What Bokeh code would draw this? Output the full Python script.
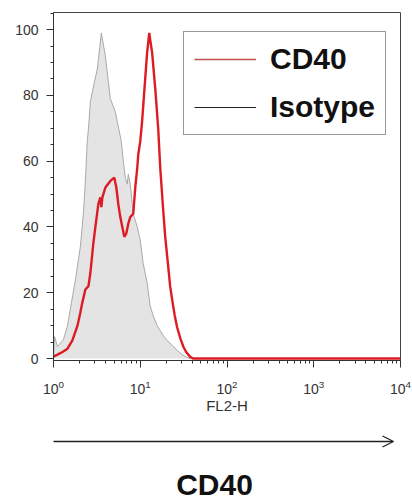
from bokeh.plotting import figure
from bokeh.models import (Range1d, FixedTicker, Legend, LegendItem, Arrow, OpenHead,
                          Label, ColumnDataSource)
from bokeh.layouts import column
from bokeh.embed import file_html
from bokeh.resources import INLINE

# ---- data ----
iso_x = [1.0, 1.03, 1.11, 1.30, 1.45, 1.61, 1.79, 2.04, 2.21, 2.33, 2.45, 2.53, 2.66, 2.96,
         3.20, 3.56, 3.96, 4.52, 5.16, 5.44, 6.05, 6.38, 6.72, 7.09, 7.28, 7.67, 8.31,
         9.24, 10.0, 10.8, 12.0, 13.0, 14.1, 15.7, 18.4, 20.4, 23.3, 26.6, 30.4, 34.7, 37.6]
iso_y = [0, 6.7, 3.6, 5.7, 10, 17, 24, 34, 44, 54, 66, 70, 78, 84,
         88, 99, 92, 79, 75, 72, 66, 60, 55, 53, 56, 53, 44,
         40, 36, 29, 23, 16, 13, 10, 7, 5.5, 4, 2.5, 1.2, 0.3, 0]

cd40_x = [1.0, 1.11, 1.27, 1.45, 1.65, 1.89, 2.04, 2.15, 2.33, 2.53, 2.66, 2.88, 3.04,
          3.29, 3.47, 3.56, 3.66, 3.96, 4.52, 5.02, 5.30, 5.58, 5.89, 6.21, 6.55, 6.90,
          7.28, 7.67, 8.31, 8.76, 9.24, 9.48, 10.0, 10.5, 11.4, 12.0, 12.7, 13.0, 13.7,
          14.9, 16.1, 17.0, 18.4, 19.4, 21.0, 22.1, 23.3, 25.0, 26.6, 29.1, 31.5, 33.8,
          37.6, 40.5, 10000]
cd40_y = [0.6, 1.2, 2, 3, 5.5, 10, 14, 17, 21, 22, 26, 35, 40,
          47, 49, 46, 49, 52, 54, 55, 52, 47, 43, 40, 37, 38,
          41, 43, 44, 52, 58, 62, 66, 72, 85, 93, 99, 97, 93,
          82, 70, 58, 45, 37, 28, 22, 18, 13, 9.5, 6, 3.5, 2,
          0.5, 0, 0]

y_ticks = [0, 20, 40, 60, 80, 100]
y_minor = [5, 10, 15, 25, 30, 35, 45, 50, 55, 65, 70, 75, 85, 90, 95, 105]
x_ticks = [1, 10, 100, 1000, 10000]
x_minor = [m * d for d in [1, 10, 100, 1000] for m in range(2, 10)]

series_labels = ["CD40", "Isotype"]
axis_label = "FL2-H"
bottom_title = "CD40"

FONT = "Liberation Sans"
RED = "#dc1c22"

p = figure(width=412, height=420, x_axis_type="log",
           x_range=Range1d(1, 10000), y_range=Range1d(-0.6, 105.2),
           output_backend="svg", toolbar_location=None,
           min_border_left=53, min_border_right=12, min_border_top=12, min_border_bottom=60)
p.grid.visible = False
p.outline_line_color = "#444444"
p.outline_line_width = 1
p.background_fill_color = "white"
p.border_fill_color = "white"

src_iso = ColumnDataSource(dict(x=iso_x, y=iso_y))
src_cd = ColumnDataSource(dict(x=cd40_x, y=cd40_y))
p.varea(x="x", y1=0, y2="y", source=src_iso, fill_color="#e4e4e4")
p.line(x="x", y="y", source=src_iso, line_color="#a9a9a9", line_width=1)
p.line(x="x", y="y", source=src_cd, line_color=RED, line_width=2.4)

# legend-only glyphs (placed outside the visible x range)
leg_red = p.line(x=[0.1, 0.2], y=[50, 50], line_color="#c0504d", line_width=1.5)
leg_blk = p.line(x=[0.1, 0.2], y=[50, 50], line_color="#222222", line_width=1.2)
legend = Legend(items=[LegendItem(label=series_labels[0], renderers=[leg_red]),
                       LegendItem(label=series_labels[1], renderers=[leg_blk])],
                location=(130, 225), orientation="vertical",
                label_text_font=FONT, label_text_font_size="30px",
                label_text_font_style="bold", label_text_color="#111111",
                glyph_width=62, glyph_height=34, label_height=34, label_standoff=14,
                spacing=14, padding=10, margin=0,
                border_line_color="#333333", border_line_width=1,
                background_fill_color="white", background_fill_alpha=1)
p.add_layout(legend, "center")

# axes
ya = p.yaxis[0]
ya.ticker = FixedTicker(ticks=y_ticks, minor_ticks=y_minor)
xa = p.xaxis[0]
xa.ticker = FixedTicker(ticks=x_ticks, minor_ticks=x_minor)
xa.axis_label = axis_label
for ax in (xa, ya):
    ax.axis_line_color = "#333333"
    ax.major_tick_line_color = "#333333"
    ax.minor_tick_line_color = "#333333"
    ax.major_tick_in = 0
    ax.major_tick_out = 7
    ax.minor_tick_in = 0
    ax.minor_tick_out = 3
    ax.major_label_text_font = FONT
    ax.major_label_text_color = "#333333"
ya.major_label_text_font_size = "14px"
ya.major_label_standoff = 8
xa.major_label_text_font_size = "14px"
xa.major_label_standoff = 12
xa.axis_label_text_font = FONT
xa.axis_label_text_font_size = "15px"
xa.axis_label_text_font_style = "normal"
xa.axis_label_text_color = "#333333"
xa.axis_label_standoff = 0

# second panel: arrow + title; ranges map to page pixels (frame aligned with p's)
q = figure(width=412, height=80, x_range=Range1d(53, 400), y_range=Range1d(500, 420),
           output_backend="svg", toolbar_location=None,
           min_border=0, min_border_left=53, min_border_right=12,
           min_border_top=0, min_border_bottom=0)
q.axis.visible = False
q.grid.visible = False
q.outline_line_color = None
q.background_fill_color = "white"
q.border_fill_color = "white"
q.add_layout(Arrow(x_start=44, y_start=441, x_end=393, y_end=441,
                   line_color="#222222", line_width=1.3,
                   end=OpenHead(size=11, line_color="#222222", line_width=1.3)))
q.add_layout(Label(x=214, y=484, text=bottom_title, text_align="center",
                   text_baseline="middle", text_font=FONT, text_font_size="30px",
                   text_font_style="bold", text_color="#111111"))

layout = column(p, q, spacing=0)
open("out.html", "w").write(file_html(layout, INLINE))
